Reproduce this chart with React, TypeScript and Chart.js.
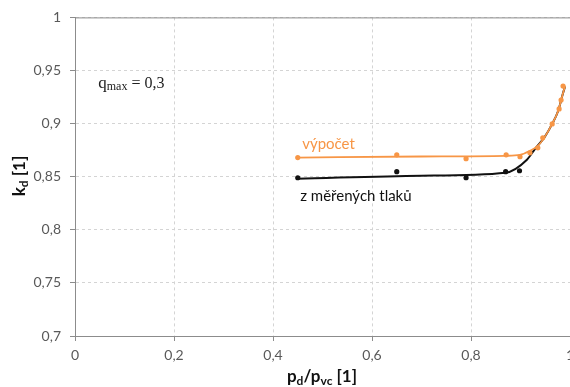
import React, { useEffect, useRef } from "react";
import { Chart, registerables } from "chart.js";

Chart.register(...registerables);

// ---- data ----
const xTickValues = [0, 0.2, 0.4, 0.6, 0.8, 1];
const yTickValues = [0.7, 0.75, 0.8, 0.85, 0.9, 0.95, 1];

// measured (black) points
const measX = [0.45, 0.65, 0.79, 0.87, 0.898];
const measY = [0.849, 0.8547, 0.849, 0.8547, 0.8556];

// calculated (orange) points
const calcX = [0.45, 0.65, 0.79, 0.871, 0.899, 0.919, 0.935, 0.945, 0.964, 0.978, 0.982, 0.986];
const calcY = [0.868, 0.8706, 0.867, 0.8706, 0.8688, 0.8725, 0.8772, 0.8866, 0.8997, 0.9138, 0.9222, 0.9353];

// trend lines
const calcLineX = [0.45, 0.7, 0.87, 0.899, 0.919, 0.935, 0.949, 0.964, 0.976, 0.986, 0.99];
const calcLineY = [0.868, 0.869, 0.8697, 0.8705, 0.8744, 0.879, 0.8875, 0.8997, 0.9119, 0.9288, 0.935];
const measLineX = [0.45, 0.7, 0.87, 0.913, 0.929, 0.949, 0.964, 0.976, 0.986, 0.99];
const measLineY = [0.848, 0.851, 0.8538, 0.866, 0.876, 0.8875, 0.8997, 0.9119, 0.9288, 0.935];

const ORANGE = "#F79646";
const BLACK = "#111111";
const AXIS = "#8c8c8c";
const GRID = "#d4d4d4";
const TICK_COLOR = "#595959";
const FONT = "Lato, 'Open Sans', sans-serif";
const SERIF = "'Liberation Serif', 'DejaVu Serif', serif";

const fmt = (v: number) => String(+v.toFixed(2)).replace(".", ",");
const pts = (xs: number[], ys: number[]) => xs.map((x, i) => ({ x, y: ys[i] }));

type Part = { text: string; font: string; dy?: number };

function drawParts(ctx: CanvasRenderingContext2D, parts: Part[], x: number, y: number, align: "left" | "center", color: string, rotate = 0) {
  ctx.save();
  ctx.translate(x, y);
  if (rotate) ctx.rotate(rotate);
  ctx.fillStyle = color;
  ctx.textBaseline = "middle";
  ctx.textAlign = "left";
  let w = 0;
  for (const p of parts) {
    ctx.font = p.font;
    w += ctx.measureText(p.text).width;
  }
  let cx = align === "center" ? -w / 2 : 0;
  for (const p of parts) {
    ctx.font = p.font;
    ctx.fillText(p.text, cx, p.dy || 0);
    cx += ctx.measureText(p.text).width;
  }
  ctx.restore();
}

const annotationPlugin = {
  id: "annot",
  afterDraw(chart: any) {
    const { ctx, chartArea, scales } = chart;
    const xs = scales.x;
    const ys = scales.y;
    // frame
    ctx.save();
    ctx.strokeStyle = AXIS;
    ctx.lineWidth = 1;
    ctx.beginPath();
    ctx.moveTo(chartArea.left, chartArea.top + 0.5);
    ctx.lineTo(chartArea.right, chartArea.top + 0.5);
    ctx.stroke();
    ctx.restore();

    // q_max label
    drawParts(ctx, [
      { text: "q", font: `17px ${SERIF}` },
      { text: "max", font: `12px ${SERIF}`, dy: 3 },
      { text: " = 0,3", font: `16px ${SERIF}` },
    ], xs.getPixelForValue(0.047), ys.getPixelForValue(0.9375), "left", "#222");

    drawParts(ctx, [{ text: "výpočet", font: `15px ${FONT}` }], xs.getPixelForValue(0.459), ys.getPixelForValue(0.8805), "left", ORANGE);
    drawParts(ctx, [{ text: "z měřených tlaků", font: `15px ${FONT}` }], xs.getPixelForValue(0.455), ys.getPixelForValue(0.8315), "left", BLACK);

    // axis titles
    drawParts(ctx, [
      { text: "p", font: `bold 17px ${FONT}` },
      { text: "d", font: `bold 12px ${FONT}`, dy: 4 },
      { text: "/p", font: `bold 17px ${FONT}` },
      { text: "vc", font: `bold 12px ${FONT}`, dy: 4 },
      { text: " [1]", font: `bold 17px ${FONT}` },
    ], 322, 377, "center", "#111");

    drawParts(ctx, [
      { text: "k", font: `bold 17px ${FONT}` },
      { text: "d", font: `bold 12px ${FONT}`, dy: 4 },
      { text: " [1]", font: `bold 17px ${FONT}` },
    ], 20, 176, "center", "#111", -Math.PI / 2);
  },
};

export default function App() {
  const ref = useRef<HTMLCanvasElement | null>(null);
  useEffect(() => {
    if (!ref.current) return;
    const chart = new Chart(ref.current, {
      type: "scatter",
      data: {
        datasets: [
          {
            label: "výpočet body",
            data: pts(calcX, calcY),
            backgroundColor: ORANGE,
            borderColor: ORANGE,
            pointRadius: 2.6,
            pointBorderWidth: 0,
            showLine: false,
            order: 0,
          },
          {
            label: "z měřených tlaků body",
            data: pts(measX, measY),
            backgroundColor: BLACK,
            borderColor: BLACK,
            pointRadius: 2.6,
            pointBorderWidth: 0,
            showLine: false,
            order: 1,
          },
          {
            label: "výpočet",
            data: pts(calcLineX, calcLineY),
            borderColor: ORANGE,
            borderWidth: 1.8,
            pointRadius: 0,
            showLine: true,
            cubicInterpolationMode: "monotone",
            order: 2,
          },
          {
            label: "z měřených tlaků",
            data: pts(measLineX, measLineY),
            borderColor: BLACK,
            borderWidth: 2,
            pointRadius: 0,
            showLine: true,
            cubicInterpolationMode: "monotone",
            order: 3,
          },
        ],
      },
      options: {
        animation: false,
        responsive: false,
        devicePixelRatio: 1,
        layout: { padding: { left: 0, right: 30, top: 16, bottom: 0 } },
        plugins: { legend: { display: false }, tooltip: { enabled: false } },
        scales: {
          x: {
            type: "linear",
            min: 0,
            max: 1,
            afterBuildTicks: (s: any) => { s.ticks = xTickValues.map((v) => ({ value: v })); },
            afterFit: (s: any) => { s.height = 51; },
            ticks: {
              callback: (v: any) => fmt(Number(v)),
              color: TICK_COLOR,
              font: { family: FONT, size: 14 },
              padding: 6,
              maxRotation: 0,
            },
            grid: { color: GRID, tickColor: AXIS, tickLength: 5, drawTicks: true },
            border: { color: AXIS, width: 1, dash: [3, 3] },
          },
          y: {
            type: "linear",
            min: 0.7,
            max: 1,
            afterBuildTicks: (s: any) => { s.ticks = yTickValues.map((v) => ({ value: v })); },
            afterFit: (s: any) => { s.width = 75; },
            ticks: {
              callback: (v: any) => fmt(Number(v)),
              color: TICK_COLOR,
              font: { family: FONT, size: 14 },
              padding: 9,
            },
            grid: { color: GRID, tickColor: AXIS, tickLength: 5, drawTicks: true },
            border: { color: AXIS, width: 1, dash: [3, 3] },
          },
        },
      },
      plugins: [annotationPlugin],
    } as any);
    return () => chart.destroy();
  }, []);
  return (
    <div style={{ position: "fixed", left: 0, top: 0, width: 570, height: 387, overflow: "hidden", background: "#fff" }}>
      <canvas ref={ref} width={600} height={387} style={{ display: "block" }} />
    </div>
  );
}
